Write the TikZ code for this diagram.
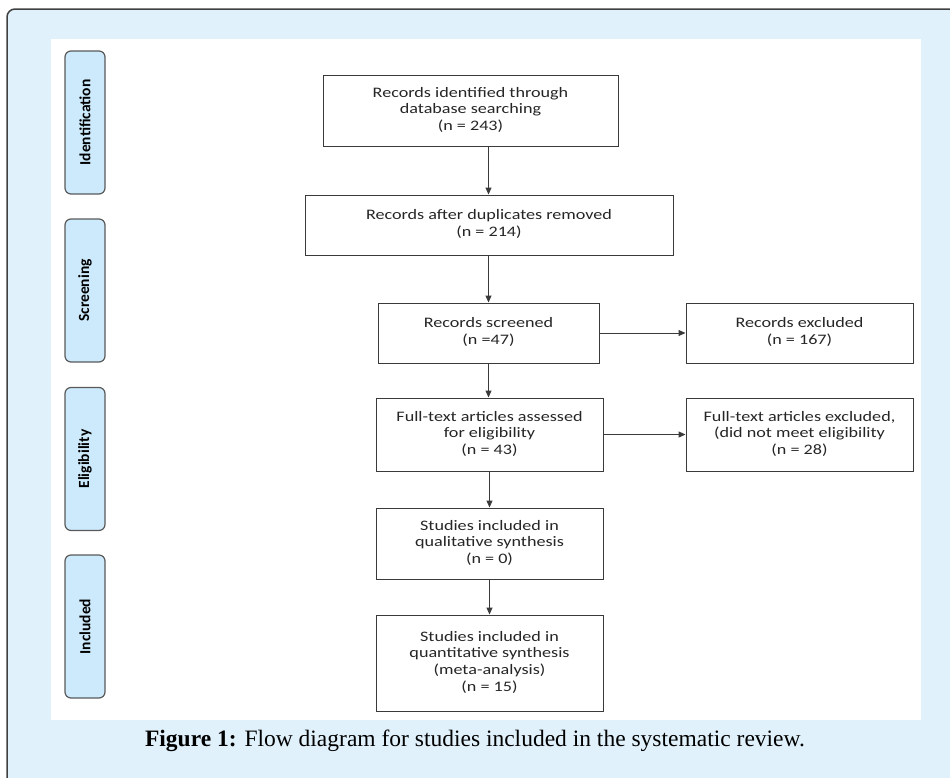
\documentclass[tikz,border=0pt]{standalone}
\usepackage{fontspec}
\usepackage{graphicx}
\setmainfont{Carlito}
\newfontfamily\capfont{Liberation Serif}
\usetikzlibrary{arrows.meta}
\definecolor{panelbg}{HTML}{E0F1FB}
\definecolor{tabfill}{HTML}{CCEAFB}
\definecolor{tabline}{HTML}{5A5A5A}
\definecolor{boxline}{HTML}{3A3A3A}
\definecolor{txt}{HTML}{262626}
\newcommand{\bxtext}[1]{\scalebox{1.25}[1]{\begin{tabular}{@{}c@{}}#1\end{tabular}}}
\begin{document}
\begin{tikzpicture}[x=1pt,y=-1pt,
  box/.style={draw=boxline, line width=1pt, fill=white, text=txt, align=center,
    font=\fontsize{14.5}{16.8}\selectfont, inner sep=0pt},
  tab/.style={draw=tabline, fill=tabfill, line width=1.2pt, rounded corners=6pt,
    minimum width=143pt, minimum height=40pt, inner sep=0pt, rotate=90,
    font=\fontsize{15.5}{17}\selectfont\bfseries, text=black},
  arr/.style={draw=boxline, line width=1pt, -{Triangle[length=7pt,width=6pt]}}]
\useasboundingbox (0,0) rectangle (950,777);
\begin{scope}
\clip (0,0) rectangle (950,777);
\draw[fill=panelbg, draw=black!75, line width=1.5pt, rounded corners=8pt] (7,9) rectangle (990,810);
\end{scope}
\fill[white] (51,39) rectangle (921,720);
% phase tabs
\node[tab] (t1) at (85,122.5) {Identification};
\node[tab] (t2) at (85,290.5) {Screening};
\node[tab] (t3) at (85,459) {Eligibility};
\node[tab] (t4) at (85,626.5) {Included};
% boxes
\node[box, minimum width=295pt, minimum height=71pt] (b1) at (470.5,110.5)
  {\bxtext{Records identified through\\database searching\\(n = 243)}};
\node[box, minimum width=368pt, minimum height=60pt] (b2) at (489,225)
  {\bxtext{Records after duplicates removed\\(n = 214)}};
\node[box, minimum width=221pt, minimum height=60pt] (b3) at (488.5,333)
  {\bxtext{Records screened\\(n =47)}};
\node[box, minimum width=227pt, minimum height=60pt] (b4) at (799.5,333)
  {\bxtext{Records excluded\\(n = 167)}};
\node[box, minimum width=227pt, minimum height=73pt] (b5) at (489.5,434.5)
  {\bxtext{Full-text articles assessed\\for eligibility\\(n = 43)}};
\node[box, minimum width=227pt, minimum height=73pt] (b6) at (799.5,434.5)
  {\bxtext{Full-text articles excluded,\\(did not meet eligibility\\(n = 28)}};
\node[box, minimum width=227pt, minimum height=71pt] (b7) at (489.5,543.5)
  {\bxtext{Studies included in\\qualitative synthesis\\(n = 0)}};
\node[box, minimum width=227pt, minimum height=96pt] (b8) at (489.5,663)
  {\bxtext{Studies included in\\quantitative synthesis\\(meta-analysis)\\(n = 15)}};
% arrows
\draw[arr] (b1.south -| b3.center) -- (b2.north -| b3.center);
\draw[arr] (b2.south -| b3.center) -- (b3.north);
\draw[arr] (b3.east) -- (b4.west);
\draw[arr] (b3.south) -- (b5.north -| b3.south);
\draw[arr] (b5.east) -- (b6.west);
\draw[arr] (b5.south) -- (b7.north);
\draw[arr] (b7.south) -- (b8.north);
% caption
\node[font=\capfont\fontsize{23.5}{26}\selectfont, text=black] (cap) at (475,741)
  {\textbf{Figure 1:} Flow diagram for studies included in the systematic review.};
\end{tikzpicture}
\end{document}
